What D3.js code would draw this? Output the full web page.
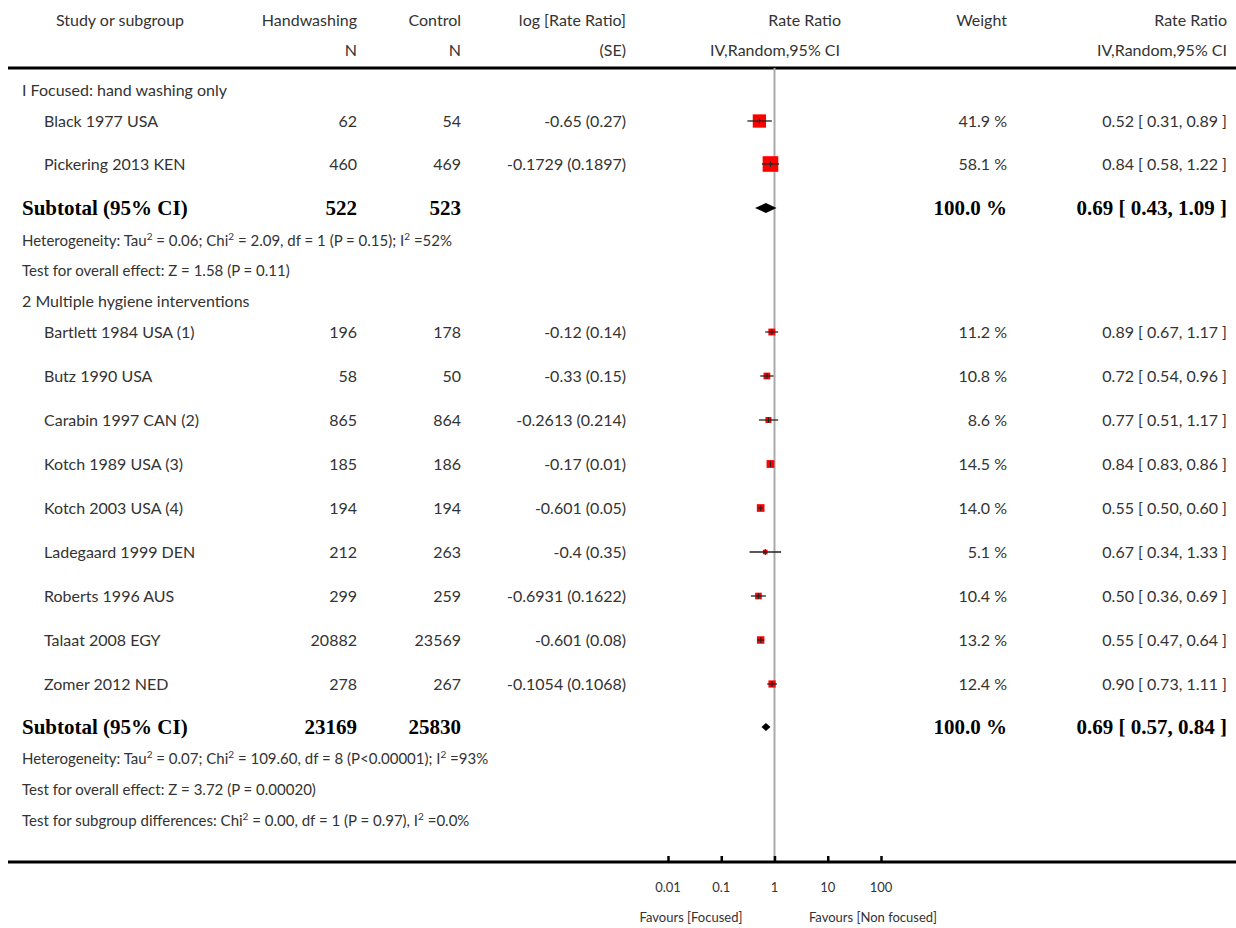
<!DOCTYPE html>
<html><head><meta charset="utf-8">
<script src="https://cdn.jsdelivr.net/npm/d3@7"></script>
<style>body{margin:0;background:#fff}text{font-family:Lato,"Open Sans",sans-serif;fill:#333}</style>
</head><body><div id="chart"></div>
<script>
// study rows
const studies1 = ['Black 1977 USA', 'Pickering 2013 KEN'];
const hw1 = [62, 460];
const ctl1 = [54, 469];
const logse1 = ['-0.65 (0.27)', '-0.1729 (0.1897)'];
const weight1 = [41.9, 58.1];
const rr1 = [0.52, 0.84];
const lo1 = [0.31, 0.58];
const hi1 = [0.89, 1.22];

const studies2 = ['Bartlett 1984 USA (1)', 'Butz 1990 USA', 'Carabin 1997 CAN (2)', 'Kotch 1989 USA (3)',
    'Kotch 2003 USA (4)', 'Ladegaard 1999 DEN', 'Roberts 1996 AUS', 'Talaat 2008 EGY', 'Zomer 2012 NED'];
const hw2 = [196, 58, 865, 185, 194, 212, 299, 20882, 278];
const ctl2 = [178, 50, 864, 186, 194, 263, 259, 23569, 267];
const logse2 = ['-0.12 (0.14)', '-0.33 (0.15)', '-0.2613 (0.214)', '-0.17 (0.01)', '-0.601 (0.05)',
    '-0.4 (0.35)', '-0.6931 (0.1622)', '-0.601 (0.08)', '-0.1054 (0.1068)'];
const weight2 = [11.2, 10.8, 8.6, 14.5, 14.0, 5.1, 10.4, 13.2, 12.4];
const rr2 = [0.89, 0.72, 0.77, 0.84, 0.55, 0.67, 0.50, 0.55, 0.90];
const lo2 = [0.67, 0.54, 0.51, 0.83, 0.50, 0.34, 0.36, 0.47, 0.73];
const hi2 = [1.17, 0.96, 1.17, 0.86, 0.60, 1.33, 0.69, 0.64, 1.11];

const subtotals = [
    { hw: 522, ctl: 523, rr: 0.69, lo: 0.43, hi: 1.09 },
    { hw: 23169, ctl: 25830, rr: 0.69, lo: 0.57, hi: 0.84 }
];
const axisTicks = [0.01, 0.1, 1, 10, 100];

const W = 1236, H = 928;
const svg = d3.select('#chart').append('svg').attr('width', W).attr('height', H);
const x = d3.scaleLog().domain([0.01, 100]).range([668, 881]);
const fmt = d3.format('.2f');
const ci = (r, l, h) => fmt(r) + ' [ ' + fmt(l) + ', ' + fmt(h) + ' ]';
const DY = 2; // text baseline nudge

function txt(xp, y, s, anchor, opts) {
    opts = opts || {};
    const t = svg.append('text').attr('x', xp).attr('y', y + DY).attr('text-anchor', anchor || 'start')
        .attr('dominant-baseline', 'middle').style('font-size', (opts.size || 16) + 'px').text(s);
    if (opts.bold) t.style('font-family', '"Liberation Serif",serif').style('font-weight', 'bold').style('fill', '#000');
    return t;
}
function sup(xp, y, parts) {
    const t = svg.append('text').attr('x', xp).attr('y', y + DY).attr('dominant-baseline', 'middle').style('font-size', '15px');
    parts.forEach(p => {
        if (p[1]) t.append('tspan').attr('dy', -5).style('font-size', '10px').text(p[0]);
        else if (p[2]) t.append('tspan').attr('dy', 5).text(p[0]);
        else t.append('tspan').text(p[0]);
    });
}

// header
txt(120, 20, 'Study or subgroup', 'middle');
txt(357, 20, 'Handwashing', 'end'); txt(357, 50, 'N', 'end');
txt(461, 20, 'Control', 'end'); txt(461, 50, 'N', 'end');
txt(626, 20, 'log [Rate Ratio]', 'end'); txt(626, 50, '(SE)', 'end');
txt(841, 20, 'Rate Ratio', 'end'); txt(775, 50, 'IV,Random,95% CI', 'middle');
txt(1007, 20, 'Weight', 'end');
txt(1227, 20, 'Rate Ratio', 'end'); txt(1227, 50, 'IV,Random,95% CI', 'end');
svg.append('line').attr('x1', 8).attr('x2', 1236).attr('y1', 68).attr('y2', 68).attr('stroke', '#000').attr('stroke-width', 3);

// reference line
svg.append('line').attr('x1', x(1)).attr('x2', x(1)).attr('y1', 68).attr('y2', 862).attr('stroke', '#aaa').attr('stroke-width', 2);

function studyRows(names, hw, ctl, ls, w, rr, lo, hi, ys) {
    names.forEach((n, i) => {
        const y = ys[i];
        txt(44, y, n); txt(357, y, hw[i], 'end'); txt(461, y, ctl[i], 'end');
        txt(626, y, ls[i], 'end'); txt(1007, y, w[i].toFixed(1) + ' %', 'end');
        txt(1227, y, ci(rr[i], lo[i], hi[i]), 'end');
        const s = 2.05 * Math.sqrt(w[i]);
        svg.append('rect').attr('x', x(rr[i]) - s / 2).attr('y', y - s / 2).attr('width', s).attr('height', s).attr('fill', '#f00');
        svg.append('line').attr('x1', x(lo[i])).attr('x2', x(hi[i])).attr('y1', y).attr('y2', y).attr('stroke', '#222').attr('stroke-width', 1.3);
        svg.append('line').attr('x1', x(rr[i])).attr('x2', x(rr[i])).attr('y1', y - 3).attr('y2', y + 3).attr('stroke', '#222');
    });
}
function subtotalRow(st, y, h) {
    txt(22, y, 'Subtotal (95% CI)', 'start', { bold: true, size: 21 });
    txt(357, y, st.hw, 'end', { bold: true, size: 21 });
    txt(461, y, st.ctl, 'end', { bold: true, size: 21 });
    txt(1007, y, '100.0 %', 'end', { bold: true, size: 21 });
    txt(1227, y, ci(st.rr, st.lo, st.hi), 'end', { bold: true, size: 21 });
    const pts = [[x(st.lo), y], [x(st.rr), y - h], [x(st.hi), y], [x(st.rr), y + h]];
    svg.append('polygon').attr('points', pts.map(p => p.join(',')).join(' ')).attr('fill', '#000');
}

txt(22, 90, 'I Focused: hand washing only');
studyRows(studies1, hw1, ctl1, logse1, weight1, rr1, lo1, hi1, [121, 164]);
subtotalRow(subtotals[0], 208, 5);
sup(22, 240, [['Heterogeneity: Tau'], ['2', 1], [' = 0.06; Chi', 0, 1], ['2', 1], [' = 2.09, df = 1 (P = 0.15); I', 0, 1], ['2', 1], [' =52%', 0, 1]]);
txt(22, 270, 'Test for overall effect: Z = 1.58 (P = 0.11)', 'start', { size: 15 });
txt(22, 301, '2 Multiple hygiene interventions');
studyRows(studies2, hw2, ctl2, logse2, weight2, rr2, lo2, hi2, [332, 376, 420, 464, 508, 552, 596, 640, 684]);
subtotalRow(subtotals[1], 727, 4);
sup(22, 758, [['Heterogeneity: Tau'], ['2', 1], [' = 0.07; Chi', 0, 1], ['2', 1], [' = 109.60, df = 8 (P<0.00001); I', 0, 1], ['2', 1], [' =93%', 0, 1]]);
txt(22, 789, 'Test for overall effect: Z = 3.72 (P = 0.00020)', 'start', { size: 15 });
sup(22, 820, [['Test for subgroup differences: Chi'], ['2', 1], [' = 0.00, df = 1 (P = 0.97), I', 0, 1], ['2', 1], [' =0.0%', 0, 1]]);

// axis
svg.append('line').attr('x1', 8).attr('x2', 1236).attr('y1', 862).attr('y2', 862).attr('stroke', '#000').attr('stroke-width', 3);
const ax = svg.append('g').attr('transform', 'translate(0,862)')
    .call(d3.axisTop(x).tickValues(axisTicks).tickSize(6).tickFormat(''));
ax.select('.domain').remove();
ax.selectAll('line').attr('stroke-width', 2.5);
axisTicks.forEach(t => txt(x(t), 887, String(t), 'middle', { size: 13 }));
txt(691, 917, 'Favours [Focused]', 'middle', { size: 13 });
txt(873, 917, 'Favours [Non focused]', 'middle', { size: 13 });
</script></body></html>
